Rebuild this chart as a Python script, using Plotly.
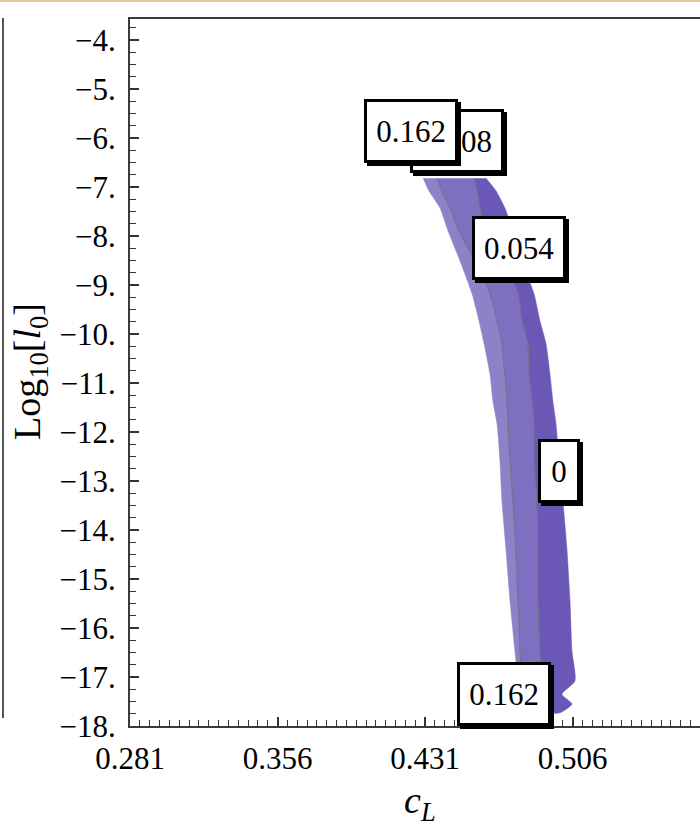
import plotly.graph_objects as go

# ---- data ----
log_l0 = [-6.82, -7.08, -7.43, -7.90, -8.51, -9.18, -9.73, -10.20, -10.82, -11.37,
          -11.84, -12.59, -13.41, -14.43, -15.45, -16.47, -17.08, -17.35, -17.55, -17.73]
cL_162 = [0.4300, 0.4330, 0.4386, 0.4427, 0.4488, 0.4549, 0.4584, 0.4610, 0.4640, 0.4655,
          0.4676, 0.4691, 0.4701, 0.4722, 0.4742, 0.4767, 0.4783, 0.4793, 0.4803, 0.4813]
cL_108 = [0.4371, 0.4396, 0.4437, 0.4483, 0.4564, 0.4640, 0.4676, 0.4701, 0.4716, 0.4727,
          0.4732, 0.4742, 0.4757, 0.4772, 0.4783, 0.4793, 0.4803, 0.4813, 0.4823, 0.4833]
cL_054 = [0.4559, 0.4574, 0.4589, 0.4615, 0.4716, 0.4783, 0.4803, 0.4833, 0.4838, 0.4854,
          0.4864, 0.4864, 0.4879, 0.4884, 0.4884, 0.4894, 0.4904, 0.4909, 0.4914, 0.4925]
cL_000 = [0.4620, 0.4671, 0.4716, 0.4757, 0.4803, 0.4864, 0.4894, 0.4925, 0.4945, 0.4960,
          0.4976, 0.4991, 0.5011, 0.5032, 0.5047, 0.5057, 0.5072, 0.5006, 0.5057, 0.4996]

x_ticks = [0.281, 0.356, 0.431, 0.506, 0.581]
x_ticktext = ["0.281", "0.356", "0.431", "0.506", "0.581"]
y_ticks = [-4, -5, -6, -7, -8, -9, -10, -11, -12, -13, -14, -15, -16, -17, -18]
y_ticktext = ["\u2212%d." % abs(v) for v in y_ticks]

label_text = ["0.108", "0.162", "0.054", "0", "0.162"]
label_x = [0.4472, 0.4239, 0.4788, 0.4991, 0.4711]
label_y = [-6.06, -5.86, -8.245, -12.80, -17.35]

# ---- styling ----
FONT = "Liberation Serif, Times New Roman, Times, serif"
stripe_colors = ["#8d82c8", "#7e6fc1", "#6b57b5"]
line_color = "#77718f"

fig = go.Figure()

bounds = [cL_162, cL_108, cL_054, cL_000]
for i in range(3):
    left, right = bounds[i], bounds[i + 1]
    fig.add_trace(go.Scatter(
        x=left + right[::-1], y=log_l0 + log_l0[::-1],
        fill="toself", fillcolor=stripe_colors[i], mode="lines",
        line=dict(width=0.5, color=stripe_colors[i], shape="spline", smoothing=0.6),
        hoverinfo="skip", showlegend=False))

for b in (cL_108, cL_054):
    fig.add_trace(go.Scatter(x=b, y=log_l0, mode="lines",
                             line=dict(width=1.2, color=line_color, shape="spline", smoothing=0.6),
                             hoverinfo="skip", showlegend=False))

annotations = []
for t, x, y in zip(label_text, label_x, label_y):
    w = 70 if len(t) > 1 else 18
    # shadow box (no text)
    annotations.append(dict(x=x, y=y, xref="x", yref="y", text=" ", showarrow=False,
                            width=w, height=40,
                            bgcolor="black", bordercolor="black", borderwidth=3,
                            borderpad=9, xshift=3, yshift=-3))
    annotations.append(dict(x=x, y=y, xref="x", yref="y", text=t, showarrow=False,
                            width=w, height=40, align="center", valign="middle",
                            font=dict(family=FONT, size=31, color="black"),
                            bgcolor="white", bordercolor="black", borderwidth=3,
                            borderpad=9))

W, H = 700, 827
ML, MT, MB = 130, 19, 101
pw = W - ML
ph = H - MT - MB

annotations.append(dict(x=(30 - ML) / pw, y=(H - MB - 372) / ph, xref="paper", yref="paper",
                        xanchor="center", yanchor="middle",
                        text="Log<sub>10</sub>[<i>l</i><sub>0</sub>]", textangle=-90,
                        showarrow=False, font=dict(family=FONT, size=38, color="black")))
annotations.append(dict(x=(420 - ML) / pw, y=-(803 - (H - MB)) / ph, xref="paper", yref="paper",
                        xanchor="center", yanchor="middle",
                        text="<i>c</i><sub><i>L</i></sub>", showarrow=False,
                        font=dict(family=FONT, size=38, color="black")))

fig.update_layout(
    width=W, height=H,
    margin=dict(l=ML, r=0, t=MT, b=MB, pad=0),
    paper_bgcolor="white", plot_bgcolor="white",
    font=dict(family=FONT),
    annotations=annotations,
    shapes=[
        dict(type="line", xref="paper", yref="paper", x0=-ML / pw, x1=1.0,
             y0=1 + (MT - 1) / ph, y1=1 + (MT - 1) / ph,
             line=dict(color="#e2cc98", width=2)),
        dict(type="line", xref="paper", yref="paper", x0=-127 / pw, x1=-127 / pw,
             y0=(725 - 717) / ph, y1=1 + (MT - 18) / ph,
             line=dict(color="#555555", width=2)),
    ],
    xaxis=dict(range=[0.281, 0.281 + pw / 1967.0], tickvals=x_ticks, ticktext=x_ticktext,
               ticks="inside", ticklen=9, tickwidth=1.5, tickcolor="#333",
               showline=True, linecolor="#3a3a3a", linewidth=2, mirror=True,
               showgrid=False, zeroline=False, ticklabelstandoff=4,
               tickfont=dict(family=FONT, size=31, color="black"),
               minor=dict(dtick=0.005, tick0=0.281, ticks="inside", ticklen=6,
                          tickwidth=1.2, tickcolor="#333", showgrid=False)),
    yaxis=dict(range=[-18, -18 + ph / 49.0], tickvals=y_ticks, ticktext=y_ticktext,
               ticks="inside", ticklen=9, tickwidth=1.5, tickcolor="#333",
               showline=True, linecolor="#3a3a3a", linewidth=2, mirror=False,
               showgrid=False, zeroline=False, ticklabelstandoff=6,
               tickfont=dict(family=FONT, size=31, color="black"),
               minor=dict(dtick=0.25, tick0=-18, ticks="inside", ticklen=6,
                          tickwidth=1.2, tickcolor="#333", showgrid=False)),
)

fig.write_html("out.html")
